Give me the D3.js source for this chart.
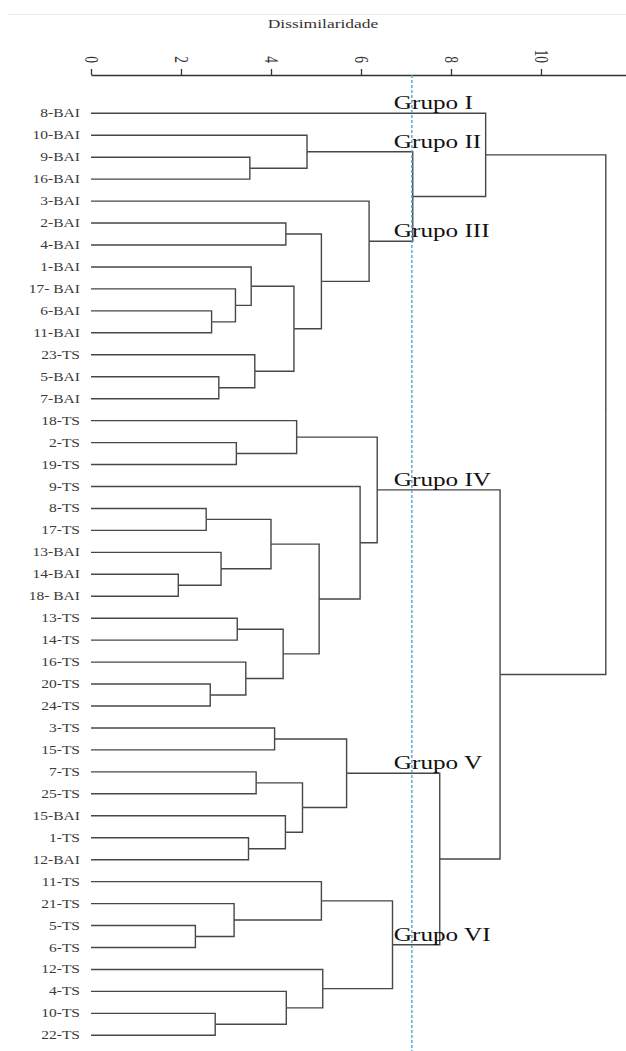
<!DOCTYPE html>
<html>
<head>
<meta charset="utf-8">
<script src="https://cdn.jsdelivr.net/npm/d3@7"></script>
<style>
  body { margin: 0; background: #fff; }
  svg { display: block; }
  text { font-family: "Liberation Serif", "Times New Roman", serif; }
</style>
</head>
<body>
<svg id="chart" width="626" height="1051"></svg>
<script>
// feuilles du dendrogramme (ordre de haut en bas)
const leaves = ["8-BAI","10-BAI","9-BAI","16-BAI","3-BAI","2-BAI","4-BAI","1-BAI","17- BAI","6-BAI",
  "11-BAI","23-TS","5-BAI","7-BAI","18-TS","2-TS","19-TS","9-TS","8-TS","17-TS","13-BAI","14-BAI",
  "18- BAI","13-TS","14-TS","16-TS","20-TS","24-TS","3-TS","15-TS","7-TS","25-TS","15-BAI","1-TS",
  "12-BAI","11-TS","21-TS","5-TS","6-TS","12-TS","4-TS","10-TS","22-TS"];

// fusions : [a, b, hauteur] ; un nombre = indice d'une fusion precedente
const merges = [
  ["14-BAI","18- BAI",1.94],  // 0
  ["5-TS","6-TS",2.32],       // 1
  ["8-TS","17-TS",2.56],      // 2
  ["20-TS","24-TS",2.65],     // 3
  ["6-BAI","11-BAI",2.68],    // 4
  ["10-TS","22-TS",2.76],     // 5
  ["5-BAI","7-BAI",2.84],     // 6
  ["13-BAI",0,2.89],          // 7
  ["21-TS",1,3.18],           // 8
  ["17- BAI",4,3.21],         // 9
  ["2-TS","19-TS",3.23],      // 10
  ["13-TS","14-TS",3.25],     // 11
  ["16-TS",3,3.44],           // 12
  ["1-TS","12-BAI",3.5],      // 13
  ["9-BAI","16-BAI",3.53],    // 14
  ["1-BAI",9,3.56],           // 15
  ["23-TS",6,3.64],           // 16
  ["7-TS","25-TS",3.67],      // 17
  [2,7,4.0],                  // 18
  ["3-TS","15-TS",4.08],      // 19
  [11,12,4.27],               // 20
  ["15-BAI",13,4.32],         // 21
  ["2-BAI","4-BAI",4.33],     // 22
  ["4-TS",5,4.34],            // 23
  [15,16,4.51],               // 24
  ["18-TS",10,4.57],          // 25
  [17,21,4.7],                // 26
  ["10-BAI",14,4.8],          // 27
  [18,20,5.07],               // 28
  [22,24,5.12],               // 29
  ["11-TS",8,5.12],           // 30
  ["12-TS",23,5.15],          // 31
  [19,26,5.68],               // 32
  ["9-TS",28,5.98],           // 33
  ["3-BAI",29,6.18],          // 34
  [25,33,6.36],               // 35
  [30,31,6.7],                // 36
  [27,34,7.15],               // 37
  [32,36,7.75],               // 38
  ["8-BAI",37,8.77],          // 39
  [35,38,9.09],               // 40
  [39,40,11.44]               // 41
];

const cutHeight = 7.13;
const groupNames = ["Grupo I","Grupo II","Grupo III","Grupo IV","Grupo V","Grupo VI"];
const axisTicks = [0, 2, 4, 6, 8, 10];
const axisTitle = "Dissimilaridade";

const svg = d3.select("#chart");
const stretch = 1.35; // le texte de l'original est etire en largeur

// construction de l'arbre
const built = [];
merges.forEach(([a, b, h]) => {
  const kid = c => typeof c === "number" ? built[c] : { name: c, h: 0 };
  built.push({ h: h, children: [kid(a), kid(b)] });
});
const root = d3.hierarchy(built[built.length - 1]);

const x = d3.scaleLinear().domain([0, 12]).range([91, 631]);
const y = d3.scalePoint().domain(leaves).range([113.3, 1035.3]);

root.eachAfter(n => {
  n.py = n.children ? d3.mean(n.children, c => c.py) : y(n.data.name);
  n.px = x(n.data.h);
});

// ligne grise tout en haut
svg.append("line")
  .attr("x1", 8).attr("x2", 626).attr("y1", 14.5).attr("y2", 14.5)
  .attr("stroke", "#ececec");

// titre
svg.append("text")
  .attr("transform", `translate(323,28) scale(${stretch + 0.05},1)`)
  .attr("text-anchor", "middle")
  .attr("font-size", 12.5)
  .attr("fill", "#333")
  .text(axisTitle);

// axe
const gAxis = svg.append("g").attr("transform", "translate(0,75)");
gAxis.call(d3.axisTop(x).tickValues(axisTicks).tickSize(6).tickSizeOuter(0));
gAxis.attr("font-family", null);
gAxis.select(".domain").attr("stroke", "#333").attr("stroke-width", 1.3);
gAxis.selectAll(".tick line").attr("stroke", "#333").attr("stroke-width", 1.3);
gAxis.selectAll(".tick text")
  .attr("x", 0).attr("y", 0).attr("dy", "0.35em")
  .attr("text-anchor", "end")
  .attr("transform", `translate(0,-12) rotate(90) scale(1,${stretch})`)
  .attr("font-size", 13.5)
  .attr("fill", "#333");

// branches
svg.append("g")
  .selectAll("path")
  .data(root.links())
  .enter()
  .append("path")
  .attr("d", l => `M${l.source.px},${l.source.py}V${l.target.py}H${l.target.px}`)
  .attr("fill", "none")
  .attr("stroke", "#474747")
  .attr("stroke-width", 1.4);

// etiquettes des feuilles
svg.append("g")
  .selectAll("text")
  .data(root.leaves())
  .enter()
  .append("text")
  .attr("transform", d => `translate(80,${d.py}) scale(${stretch},1)`)
  .attr("dy", "0.35em")
  .attr("text-anchor", "end")
  .attr("font-size", 11.5)
  .attr("fill", "#3a3a3a")
  .text(d => d.data.name);

// ligne de coupure
svg.append("line")
  .attr("x1", x(cutHeight)).attr("x2", x(cutHeight))
  .attr("y1", 75).attr("y2", 1051)
  .attr("stroke", "#4da6dc")
  .attr("stroke-width", 1.4)
  .attr("stroke-dasharray", "3,2");

// groupes : noeuds coupes par la ligne
const cut = root.descendants()
  .filter(n => n.parent && n.data.h < cutHeight && n.parent.data.h > cutHeight)
  .sort((a, b) => a.py - b.py);

svg.append("g")
  .selectAll("text")
  .data(cut)
  .enter()
  .append("text")
  .attr("transform", d => `translate(${x(cutHeight) - 18},${d.py - 4}) scale(1.4,1)`)
  .attr("font-size", 18)
  .attr("fill", "#111")
  .text((d, i) => groupNames[i]);
</script>
</body>
</html>
